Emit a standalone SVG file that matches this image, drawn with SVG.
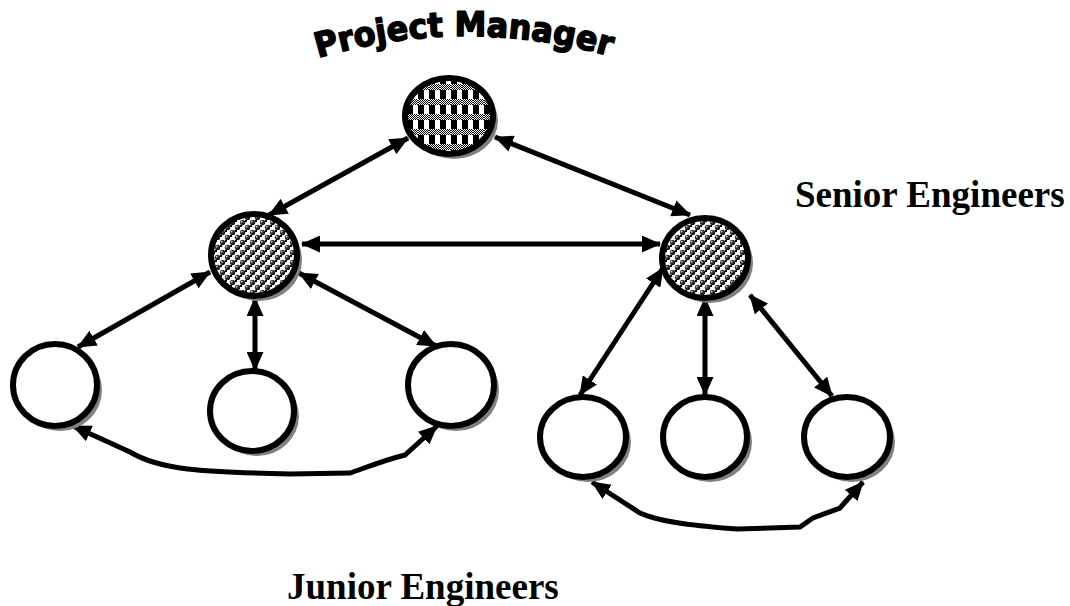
<svg xmlns="http://www.w3.org/2000/svg" xmlns:xlink="http://www.w3.org/1999/xlink" width="1070" height="606" viewBox="0 0 1070 606">
<style>
.shadow{fill:#808080;stroke:none}
.node{stroke:#000;stroke-width:6}
.plain{fill:#fff}
.conn{fill:none;stroke:#000;stroke-width:5;marker-start:url(#ah);marker-end:url(#ah)}
.label{font-family:"Liberation Serif","Times New Roman",serif;font-weight:bold;font-size:37px;fill:#000}
.pm{font-family:"DejaVu Sans","Liberation Sans",sans-serif;font-weight:900;font-size:34px;fill:#000;stroke:#000;stroke-width:1.6;stroke-linejoin:round}
</style>
<defs>
<marker id="ah" markerUnits="userSpaceOnUse" viewBox="0 0 19 17" markerWidth="19" markerHeight="17" refX="18" refY="8.5" orient="auto-start-reverse">
<path d="M0,0 L19,8.5 L0,17 z" fill="#000"/>
</marker>
<pattern id="fine" width="2" height="2" patternUnits="userSpaceOnUse">
<rect width="2" height="2" fill="#fff"/>
<rect width="1" height="1" fill="#000"/>
<rect x="1" y="1" width="1" height="1" fill="#000"/>
</pattern>
<pattern id="check" width="11" height="15" patternUnits="userSpaceOnUse">
<rect width="11" height="15" fill="#fff"/>
<rect x="0" y="0" width="6" height="15" fill="#000"/>
<rect x="0" y="9" width="11" height="6" fill="url(#fine)"/>
</pattern>
<radialGradient id="ball" cx="0.35" cy="0.35" r="0.7">
<stop offset="0" stop-color="#fff"/>
<stop offset="0.3" stop-color="#444"/>
<stop offset="1" stop-color="#000"/>
</radialGradient>
<pattern id="dots" width="10" height="10" patternUnits="userSpaceOnUse">
<rect width="10" height="10" fill="#fff"/>
<rect x="5" y="0" width="2" height="2" fill="#000"/>
<rect x="0" y="5" width="2" height="2" fill="#000"/>
<circle cx="2.5" cy="2.5" r="2.7" fill="url(#ball)"/>
<circle cx="7.5" cy="7.5" r="2.7" fill="url(#ball)"/>
</pattern>
<path id="arc" d="M 318 58 A 520 520 0 0 1 616 58"/>
</defs>

<g id="connectors">
<line class="conn" x1="408" y1="138" x2="269" y2="215"/>
<line class="conn" x1="495" y1="137" x2="690" y2="215"/>
<line class="conn" x1="302" y1="244" x2="660" y2="244"/>
<line class="conn" x1="210" y1="272" x2="78" y2="347"/>
<line class="conn" x1="255" y1="298" x2="255" y2="370"/>
<line class="conn" x1="299" y1="273" x2="436" y2="346"/>
<line class="conn" x1="663" y1="268" x2="580" y2="395"/>
<line class="conn" x1="705" y1="298" x2="705" y2="395"/>
<line class="conn" x1="750" y1="295" x2="832" y2="396"/>
<path class="conn" d="M 73 426 L 130 452 C 160 470 200 472 290 474 L 350 473 C 370 466 385 460 405 455 L 437 426"/>
<path class="conn" d="M 592 482 L 640 513 C 655 520 680 525 737 529 L 800 527 L 813 518 L 840 508 L 863 482"/>
</g>

<g id="project-manager">
<ellipse class="shadow" cx="454" cy="121" rx="44" ry="38"/>
<ellipse class="node" cx="449" cy="116" rx="44" ry="38" fill="url(#check)"/>
<text class="pm"><textPath xlink:href="#arc" textLength="296" lengthAdjust="spacingAndGlyphs">Project Manager</textPath></text>
</g>

<g id="senior-left">
<ellipse class="shadow" cx="259" cy="260" rx="43" ry="41"/>
<ellipse class="node" cx="254" cy="255" rx="43" ry="41" fill="url(#dots)"/>
</g>
<g id="senior-right">
<ellipse class="shadow" cx="710" cy="263" rx="43" ry="40"/>
<ellipse class="node" cx="705" cy="258" rx="43" ry="40" fill="url(#dots)"/>
</g>
<g id="senior-label">
<text class="label" x="795" y="207">Senior Engineers</text>
</g>

<g id="junior-1">
<ellipse class="shadow" cx="60" cy="390" rx="42" ry="41"/>
<ellipse class="node plain" cx="55" cy="385" rx="42" ry="41"/>
</g>
<g id="junior-2">
<ellipse class="shadow" cx="257" cy="416" rx="42" ry="40"/>
<ellipse class="node plain" cx="252" cy="411" rx="42" ry="40"/>
</g>
<g id="junior-3">
<ellipse class="shadow" cx="456" cy="390" rx="43" ry="41"/>
<ellipse class="node plain" cx="451" cy="385" rx="43" ry="41"/>
</g>
<g id="junior-4">
<ellipse class="shadow" cx="588" cy="442" rx="43" ry="40"/>
<ellipse class="node plain" cx="583" cy="437" rx="43" ry="40"/>
</g>
<g id="junior-5">
<ellipse class="shadow" cx="710" cy="442" rx="42" ry="40"/>
<ellipse class="node plain" cx="705" cy="437" rx="42" ry="40"/>
</g>
<g id="junior-6">
<ellipse class="shadow" cx="852" cy="442" rx="43" ry="40"/>
<ellipse class="node plain" cx="847" cy="437" rx="43" ry="40"/>
</g>
<g id="junior-label">
<text class="label" x="287" y="599">Junior Engineers</text>
</g>
</svg>
